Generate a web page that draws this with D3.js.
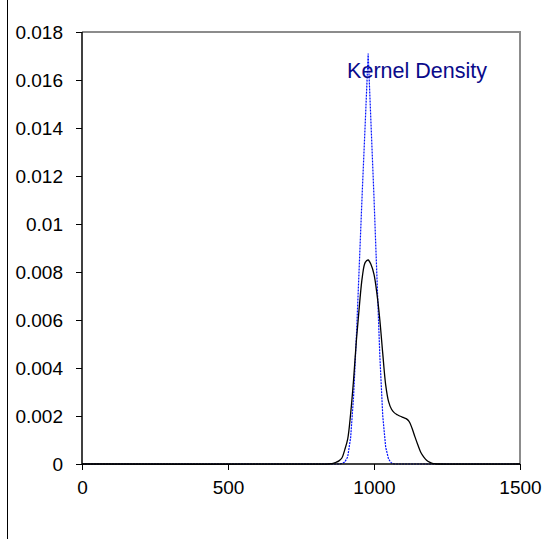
<!DOCTYPE html>
<html><head><meta charset="utf-8">
<script src="https://cdn.jsdelivr.net/npm/d3@7"></script>
<style>body{margin:0;background:#fff}svg{display:block}text{font-family:"Liberation Sans",Arial,sans-serif}</style>
</head><body>
<script>
const xTicks = [0, 500, 1000, 1500];
const yTicks = [0, 0.002, 0.004, 0.006, 0.008, 0.01, 0.012, 0.014, 0.016, 0.018];
const yTickLabels = ["0","0.002","0.004","0.006","0.008","0.01","0.012","0.014","0.016","0.018"];

// black kernel density curve
const blackX = [0, 840, 850, 860, 870, 880, 890, 900, 910, 920, 930, 940, 950, 960, 970, 980, 990, 1000, 1010, 1020, 1030, 1040, 1050, 1060, 1070, 1080, 1090, 1100, 1110, 1120, 1130, 1140, 1150, 1160, 1170, 1180, 1190, 1200, 1210, 1220, 1500];
const blackY = [0, 0, 0.00001, 0.00003, 0.00007, 0.00013, 0.00025, 0.0006, 0.00105, 0.0021, 0.0035, 0.0052, 0.0066, 0.0078, 0.0084, 0.0085, 0.0083, 0.0079, 0.0071, 0.006, 0.0046, 0.0033, 0.0026, 0.00228, 0.00213, 0.00205, 0.00199, 0.00194, 0.00189, 0.00178, 0.0015, 0.00114, 0.0008, 0.00049, 0.0003, 0.00016, 0.00008, 0.00003, 0.00001, 0, 0];

// blue (dotted) kernel density curve
const blueX = [0, 880, 890, 900, 910, 920, 930, 940, 950, 960, 970, 980, 990, 1000, 1010, 1020, 1030, 1040, 1050, 1060, 1070, 1500];
const blueY = [0, 0, 0.00002, 0.00008, 0.0003, 0.0011, 0.0028, 0.0054, 0.0084, 0.0114, 0.0142, 0.0171, 0.0141, 0.0111, 0.0078, 0.0045, 0.002, 0.0007, 0.0002, 0.00004, 0, 0];

const W = 555, H = 539;
const svg = d3.select("body").append("svg").attr("width", W).attr("height", H);

const x = d3.scaleLinear().domain([0, 1500]).range([82, 520]);
const y = d3.scaleLinear().domain([0, 0.018]).range([464, 32]);

// outer left border line
svg.append("line").attr("x1", 7.5).attr("x2", 7.5).attr("y1", 0).attr("y2", H)
  .attr("stroke", "#000").attr("stroke-width", 1);

// plot frame top and right (grey)
svg.append("path")
  .attr("d", `M${x(0)},${y(0.018)}H${x(1500)}V${y(0)}`)
  .attr("fill", "none").attr("stroke", "#8c8c8c").attr("stroke-width", 2);

// curves
svg.append("path").attr("d", d3.line().x((d, i) => x(blueX[i])).y((d, i) => y(blueY[i])).curve(d3.curveLinear)(blueX))
  .attr("fill", "none").attr("stroke", "#0010ff").attr("stroke-width", 1.2).attr("stroke-dasharray", "2,1");

svg.append("path").attr("d", d3.line().x((d, i) => x(blackX[i])).y((d, i) => y(Math.max(0, blackY[i]))).curve(d3.curveCatmullRom.alpha(0.5))(blackX))
  .attr("fill", "none").attr("stroke", "#000").attr("stroke-width", 1.3);

// axes
const yAxis = d3.axisLeft(y).tickValues(yTicks).tickSize(6).tickPadding(13)
  .tickFormat((d, i) => yTickLabels[i]);
const gy = svg.append("g").attr("transform", `translate(${x(0)},0)`).call(yAxis);
const xAxis = d3.axisBottom(x).tickValues(xTicks).tickSize(6).tickPadding(11).tickFormat(d3.format("d"));
const gx = svg.append("g").attr("transform", `translate(0,${y(0)})`).call(xAxis);

[gx, gy].forEach(g => {
  g.select(".domain").attr("stroke", "#000").attr("stroke-width", 1.5);
  g.selectAll(".tick line").attr("stroke", "#000");
  g.selectAll("text").attr("font-size", 19).attr("fill", "#000")
    .attr("font-family", "'Liberation Sans', Arial, sans-serif");
});
gy.select(".domain").attr("d", `M0,${y(0)}V${y(0.018)}`);
gx.select(".domain").attr("d", `M${x(0)},0H${x(1500)}`);

// label
svg.append("text").attr("x", 417).attr("y", 77.5).attr("text-anchor", "middle")
  .attr("font-size", 21.5).attr("fill", "#0a0a8a").text("Kernel Density");
</script>
</body></html>
